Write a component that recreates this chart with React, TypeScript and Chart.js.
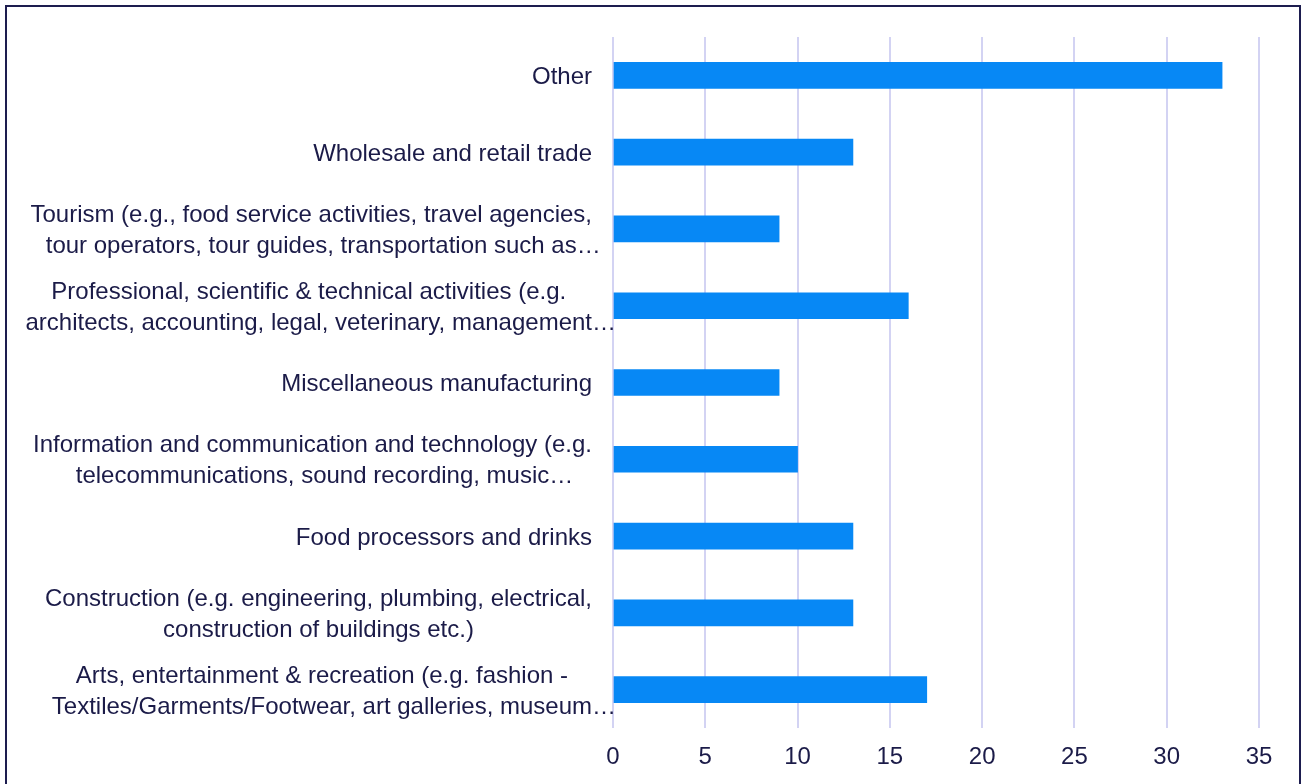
import React, { useEffect, useRef } from "react";
import { Chart, registerables } from "chart.js";

Chart.register(...registerables);

const categories: string[][] = [
  ["Other"],
  ["Wholesale and retail trade"],
  ["Tourism (e.g., food service activities, travel agencies,", "tour operators, tour guides, transportation such as…"],
  ["Professional, scientific & technical activities (e.g.", "architects, accounting, legal, veterinary, management…"],
  ["Miscellaneous manufacturing"],
  ["Information and communication and technology (e.g.", "telecommunications, sound recording, music…"],
  ["Food processors and drinks"],
  ["Construction (e.g. engineering, plumbing, electrical,", "construction of buildings etc.)"],
  ["Arts, entertainment & recreation (e.g. fashion -", "Textiles/Garments/Footwear, art galleries, museum…"],
];

const values: number[] = [33, 13, 9, 16, 9, 10, 13, 13, 17];

const xTicks: number[] = [0, 5, 10, 15, 20, 25, 30, 35];

const TEXT = "#1b1b48";
const FONT = "'Liberation Sans', Arial, sans-serif";
const FONT_SIZE = 24;
const ELLIPSIS = "…";

const labelPlugin = {
  id: "customYLabels",
  afterDraw(chart: any) {
    const ctx = chart.ctx;
    const y = chart.scales.y;
    const right = chart.chartArea.left - 21;
    const lh = 31;
    ctx.save();
    ctx.font = `${FONT_SIZE}px ${FONT}`;
    ctx.fillStyle = TEXT;
    ctx.textBaseline = "middle";
    categories.forEach((lines, i) => {
      const cy = y.getPixelForValue(i) + 2;
      const parts = lines.map((l) => {
        const trunc = l.endsWith(ELLIPSIS);
        const body = trunc ? l.slice(0, -1) : l;
        return { body, trunc, w: ctx.measureText(body).width };
      });
      const maxW = Math.max(...parts.map((p) => p.w));
      const cx = right - maxW / 2;
      const start = cy - ((lines.length - 1) * lh) / 2;
      parts.forEach((p, j) => {
        const ly = start + j * lh;
        const x0 = cx - p.w / 2;
        ctx.textAlign = "left";
        ctx.fillText(p.body, x0, ly);
        if (p.trunc) ctx.fillText(ELLIPSIS, x0 + p.w, ly);
      });
    });
    ctx.restore();
  },
};

export default function App() {
  const ref = useRef<HTMLCanvasElement | null>(null);
  useEffect(() => {
    if (!ref.current) return;
    const chart = new Chart(ref.current, {
      type: "bar",
      data: {
        labels: categories.map((c) => c.join(" ")),
        datasets: [
          {
            data: values,
            backgroundColor: "#0788f5",
            barThickness: 26,
          },
        ],
      },
      options: {
        indexAxis: "y",
        responsive: false,
        animation: false,
        layout: { padding: { top: 30, right: 40, left: 0, bottom: 0 } },
        plugins: { legend: { display: false }, tooltip: { enabled: false } },
        scales: {
          x: {
            min: 0,
            max: 35,
            afterBuildTicks(scale: any) {
              scale.ticks = xTicks.map((v) => ({ value: v }));
            },
            afterFit(scale: any) {
              scale.height = 56;
            },
            grid: { color: "#d3d3f3", lineWidth: 2, drawTicks: false },
            border: { display: false },
            ticks: {
              color: TEXT,
              font: { family: FONT, size: FONT_SIZE },
              padding: 15,
              maxRotation: 0,
            },
          },
          y: {
            afterFit(scale: any) {
              scale.width = 606;
            },
            grid: { display: false, drawTicks: false },
            border: { display: false },
            ticks: { display: false },
          },
        },
      },
      plugins: [labelPlugin],
    });
    return () => chart.destroy();
  }, []);
  return (
    <div
      style={{
        position: "absolute",
        left: 5,
        top: 5,
        width: 1296,
        height: 800,
        border: "2px solid #1d1d4f",
        boxSizing: "border-box",
        background: "#fff",
      }}
    >
      <canvas ref={ref} width={1292} height={777} style={{ display: "block" }} />
    </div>
  );
}
